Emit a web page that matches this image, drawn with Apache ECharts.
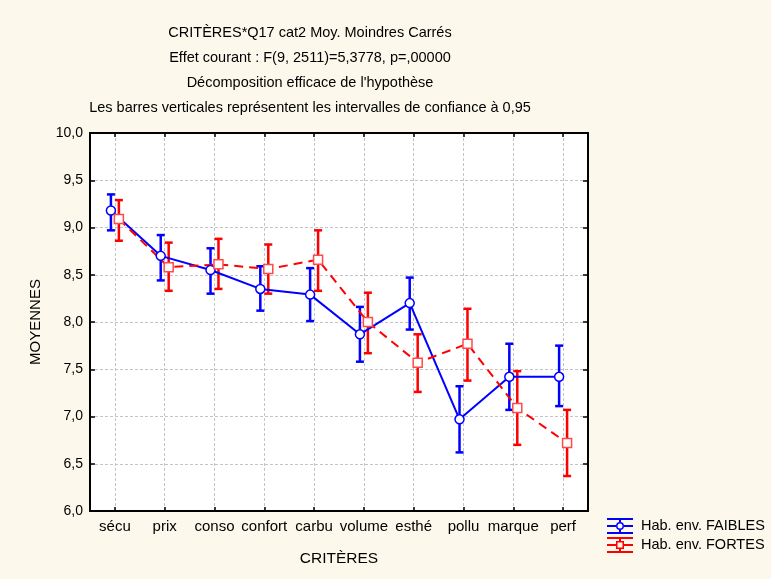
<!DOCTYPE html>
<html>
<head>
<meta charset="utf-8">
<title>CRITÈRES*Q17 cat2</title>
<script src="https://cdn.jsdelivr.net/npm/echarts@6/dist/echarts.min.js"></script>
<style>
	html, body {
		margin: 0;
		padding: 0;
		background: #fcf8ec;
	}
	#chart {
		width: 771px;
		height: 579px;
	}
</style>
</head>
<body>
<div id="chart"></div>
<script>
	// critères (axe des x)
	var categories = ['sécu', 'prix', 'conso', 'confort', 'carbu', 'volume', 'esthé', 'pollu', 'marque', 'perf'];

	// Hab. env. FAIBLES : moyennes et intervalles de confiance à 0,95
	var faibles = [9.18, 8.70, 8.55, 8.35, 8.29, 7.87, 8.20, 6.97, 7.42, 7.42];
	var faiblesLow = [8.97, 8.44, 8.30, 8.12, 8.01, 7.58, 7.92, 6.62, 7.07, 7.11];
	var faiblesHigh = [9.35, 8.92, 8.78, 8.59, 8.57, 8.16, 8.47, 7.32, 7.77, 7.75];

	// Hab. env. FORTES
	var fortes = [9.09, 8.58, 8.61, 8.56, 8.66, 8.00, 7.57, 7.77, 7.09, 6.72];
	var fortesLow = [8.86, 8.33, 8.35, 8.30, 8.33, 7.67, 7.26, 7.38, 6.70, 6.37];
	var fortesHigh = [9.29, 8.84, 8.88, 8.82, 8.97, 8.31, 7.87, 8.14, 7.48, 7.07];

	var titleLines = [
		'CRITÈRES*Q17 cat2 Moy. Moindres Carrés',
		'Effet courant : F(9, 2511)=5,3778, p=,00000',
		'Décomposition efficace de l\'hypothèse',
		'Les barres verticales représentent les intervalles de confiance à 0,95'
	];

	var BLUE = '#0000ff';
	var RED = '#ff0000';
	var FONT = 'Liberation Sans, Arial, sans-serif';
	var SHIFT = 0.08; // décalage des deux groupes autour de chaque critère

	// points et barres d'erreur
	function points(values, shift) {
		return values.map(function (v, i) { return [i + shift, v]; });
	}
	function bars(low, high, shift) {
		return low.map(function (v, i) { return [i + shift, v, high[i]]; });
	}

	function errorBar(color) {
		return function (params, api) {
			var x = api.value(0);
			var top = api.coord([x, api.value(2)]);
			var bot = api.coord([x, api.value(1)]);
			var half = 4;
			var style = { stroke: color, lineWidth: 2.5, fill: null };
			return {
				type: 'group',
				children: [
					{ type: 'line', shape: { x1: top[0], y1: top[1], x2: bot[0], y2: bot[1] }, style: style },
					{ type: 'line', shape: { x1: top[0] - half, y1: top[1], x2: top[0] + half, y2: top[1] }, style: style },
					{ type: 'line', shape: { x1: bot[0] - half, y1: bot[1], x2: bot[0] + half, y2: bot[1] }, style: style }
				]
			};
		};
	}

	var iconFaibles = 'path://M0,0H26V2H0Z M0,14H26V16H0Z M0,7H9V9H0Z M17,7H26V9H17Z M12,2H14V4H12Z M12,12H14V14H12Z ' +
		'M17,8A4,4 0 1,1 9,8A4,4 0 1,1 17,8Z M15.5,8A2.5,2.5 0 1,0 10.5,8A2.5,2.5 0 1,0 15.5,8Z';
	var iconFortes = 'path://M0,0H26V2H0Z M0,14H26V16H0Z M0,7H9V9H0Z M17,7H26V9H17Z M12,2H14V4H12Z M12,12H14V14H12Z ' +
		'M9,4H17V12H9Z M10.5,5.5V10.5H15.5V5.5Z';

	var chart = echarts.init(document.getElementById('chart'));

	var xCommon = {
		type: 'value',
		min: -0.5,
		max: 9.5,
		splitNumber: 10,
		axisLine: { show: true, onZero: false, lineStyle: { color: '#000', width: 2 } },
		axisTick: { show: true, inside: true, length: 4, lineStyle: { color: '#000', width: 1.5 } }
	};
	var yCommon = {
		type: 'value',
		min: 6,
		max: 10,
		interval: 0.5,
		axisLine: { show: true, onZero: false, lineStyle: { color: '#000', width: 2 } },
		axisTick: { show: true, inside: true, length: 5, lineStyle: { color: '#000', width: 1.5 } }
	};

	var option = {
		backgroundColor: '#fcf8ec',
		animation: false,
		textStyle: { fontFamily: FONT },
		title: {
			text: titleLines.join('\n'),
			left: 310,
			top: 20,
			padding: 0,
			textAlign: 'center',
			textStyle: { fontFamily: FONT, fontSize: 14.5, fontWeight: 'normal', color: '#000', lineHeight: 25 }
		},
		legend: {
			orient: 'vertical',
			left: 607,
			top: 518,
			padding: 0,
			itemGap: 3,
			itemWidth: 26,
			itemHeight: 16,
			selectedMode: false,
			itemStyle: { borderWidth: 0 },
			textStyle: { fontFamily: FONT, fontSize: 14.5, color: '#000', padding: [0, 0, 0, 3] },
			data: [
				{ name: 'Hab. env. FAIBLES', icon: iconFaibles, itemStyle: { color: BLUE } },
				{ name: 'Hab. env. FORTES', icon: iconFortes, itemStyle: { color: RED } }
			]
		},
		grid: {
			left: 90,
			right: 183,
			top: 133,
			bottom: 68,
			show: true,
			backgroundColor: '#ffffff',
			borderWidth: 0
		},
		xAxis: [
			Object.assign({}, xCommon, {
				position: 'bottom',
				name: 'CRITÈRES',
				nameLocation: 'middle',
				nameGap: 40,
				nameTextStyle: { fontFamily: FONT, fontSize: 15.5, color: '#000' },
				axisLabel: {
					margin: 8,
					fontFamily: FONT,
					fontSize: 15,
					color: '#000',
					showMinLabel: false,
					showMaxLabel: false,
					formatter: function (v) {
						return Number.isInteger(v) && categories[v] !== undefined ? categories[v] : '';
					}
				},
				splitLine: { show: true, lineStyle: { color: '#c4c4c4', type: [3, 2], width: 1 } }
			}),
			Object.assign({}, xCommon, {
				position: 'top',
				axisLabel: { show: false },
				splitLine: { show: false }
			})
		],
		yAxis: [
			Object.assign({}, yCommon, {
				position: 'left',
				name: 'MOYENNES',
				nameLocation: 'middle',
				nameGap: 47,
				nameTextStyle: { fontFamily: FONT, fontSize: 15, color: '#000' },
				axisLabel: {
					margin: 7,
					fontFamily: FONT,
					fontSize: 14,
					color: '#000',
					formatter: function (v) { return v.toFixed(1).replace('.', ','); }
				},
				splitLine: { show: true, lineStyle: { color: '#c4c4c4', type: [3, 2], width: 1 } }
			}),
			Object.assign({}, yCommon, {
				position: 'right',
				axisLabel: { show: false },
				splitLine: { show: false }
			})
		],
		series: [
			{
				name: 'Hab. env. FAIBLES',
				type: 'custom',
				xAxisIndex: 0,
				yAxisIndex: 0,
				itemStyle: { color: BLUE },
				renderItem: errorBar(BLUE),
				data: bars(faiblesLow, faiblesHigh, -SHIFT)
			},
			{
				name: 'Hab. env. FORTES',
				type: 'custom',
				xAxisIndex: 0,
				yAxisIndex: 0,
				itemStyle: { color: RED },
				renderItem: errorBar(RED),
				data: bars(fortesLow, fortesHigh, SHIFT)
			},
			{
				name: 'Hab. env. FAIBLES',
				type: 'line',
				xAxisIndex: 0,
				yAxisIndex: 0,
				symbol: 'circle',
				symbolSize: 9,
				lineStyle: { color: BLUE, width: 2 },
				itemStyle: { color: '#ffffff', borderColor: BLUE, borderWidth: 1.5 },
				data: points(faibles, -SHIFT)
			},
			{
				name: 'Hab. env. FORTES',
				type: 'line',
				xAxisIndex: 0,
				yAxisIndex: 0,
				symbol: 'rect',
				symbolSize: 9,
				lineStyle: { color: RED, width: 2, type: [9, 6] },
				itemStyle: { color: '#ffffff', borderColor: '#ff4a4a', borderWidth: 1.5 },
				data: points(fortes, SHIFT)
			}
		]
	};

	chart.setOption(option);
</script>
</body>
</html>
